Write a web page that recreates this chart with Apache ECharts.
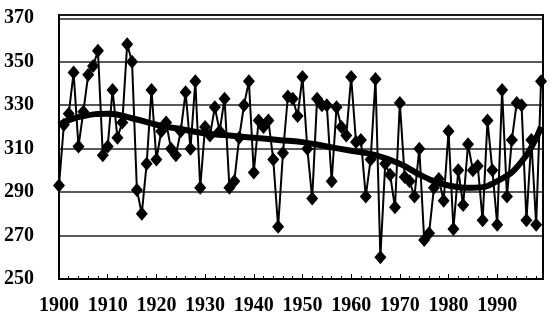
<!DOCTYPE html>
<html>
<head>
<meta charset="utf-8">
<script src="https://cdn.jsdelivr.net/npm/echarts@6/dist/echarts.min.js"></script>
<style>
  html, body { margin: 0; padding: 0; background: #fff; }
  #chart { width: 550px; height: 325px; }
</style>
</head>
<body>
<div id="chart"></div>
<script>
const firstYear = 1900;
const annualValues = [
  293, 321, 326, 345, 311, 327, 344, 348, 355, 307,
  311, 337, 315, 322, 358, 350, 291, 280, 303, 337,
  305, 318, 322, 310, 307, 318, 336, 310, 341, 292,
  320, 316, 329, 318, 333, 292, 295, 315, 330, 341,
  299, 323, 320, 323, 305, 274, 308, 334, 333, 325,
  343, 310, 287, 333, 330, 330, 295, 329, 320, 316,
  343, 313, 314, 288, 305, 342, 260, 303, 298, 283,
  331, 297, 295, 288, 310, 268, 271, 292, 296, 286,
  318, 273, 300, 284, 312, 300, 302, 277, 323, 300,
  275, 337, 288, 314, 331, 330, 277, 314, 275, 341
];
const trendYears = [1900, 1905, 1910, 1915, 1920, 1925, 1930, 1935, 1940, 1945, 1950,
  1955, 1960, 1965, 1970, 1975, 1980, 1985, 1990, 1995, 1999];
const trendValues = [321, 325, 326, 324, 321, 319, 317, 316, 315, 314, 313,
  311, 309, 307, 303, 297, 293, 292, 295, 304, 320];
const yTicks = [250, 270, 290, 310, 330, 350, 370];

const annualData = annualValues.map((v, i) => [firstYear + i, v]);
const trendData = trendYears.map((y, i) => [y, trendValues[i]]);

const labelFont = {
  color: '#000',
  fontFamily: 'Liberation Serif',
  fontWeight: 'bold',
  fontSize: 20
};

const chart = echarts.init(document.getElementById('chart'));
chart.setOption({
  animation: false,
  grid: {
    left: 59,
    right: 7,
    top: 15,
    bottom: 46,
    show: true,
    borderColor: '#000',
    borderWidth: 2
  },
  xAxis: {
    type: 'value',
    min: 1900,
    max: 1999.4,
    interval: 10,
    axisLine: { lineStyle: { color: '#000', width: 2 } },
    axisTick: { inside: true, length: 5, lineStyle: { color: '#000' } },
    minorTick: { show: true, splitNumber: 5, length: 3, lineStyle: { color: '#000' } },
    splitLine: { show: false },
    axisLabel: Object.assign({ margin: 17, formatter: v => (v % 10 === 0 ? String(v) : '') }, labelFont)
  },
  yAxis: {
    type: 'value',
    min: 250,
    max: 371.5,
    interval: 20,
    axisLine: { show: true, lineStyle: { color: '#000', width: 2 } },
    axisTick: { show: false },
    splitLine: { lineStyle: { color: '#222', width: 1.5 } },
    axisLabel: Object.assign({
      margin: 25,
      formatter: v => (yTicks.indexOf(v) >= 0 ? String(v) : '')
    }, labelFont)
  },
  series: [
    {
      type: 'line',
      data: annualData,
      symbol: 'diamond',
      symbolSize: [12, 14],
      itemStyle: { color: '#000' },
      lineStyle: { color: '#000', width: 2 },
      z: 3
    },
    {
      type: 'line',
      data: trendData,
      smooth: true,
      showSymbol: false,
      lineStyle: { color: '#000', width: 6 },
      z: 2
    }
  ]
});
</script>
</body>
</html>
